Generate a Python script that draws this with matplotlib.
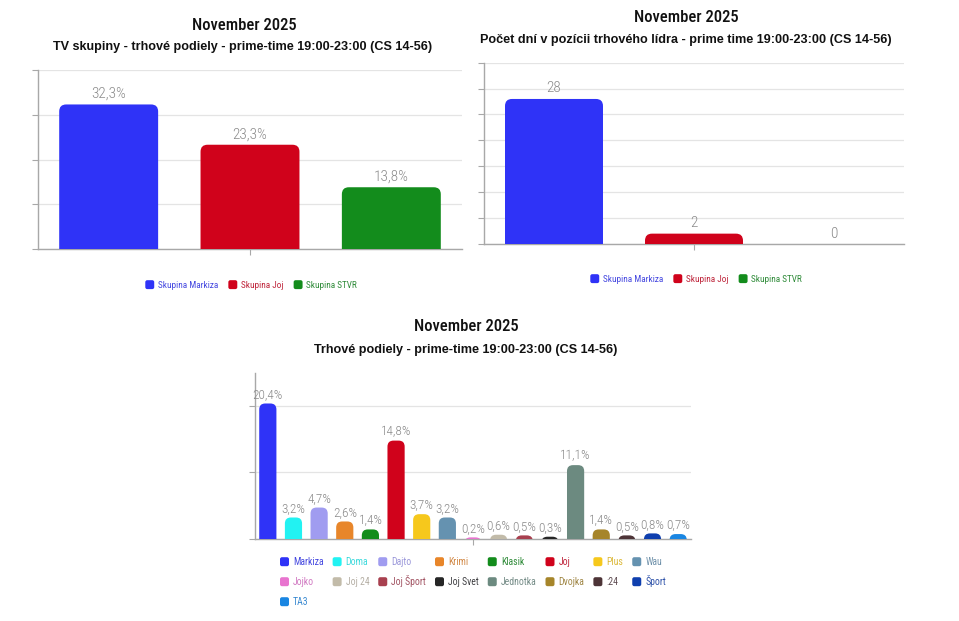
import matplotlib
matplotlib.use("Agg")
import matplotlib.pyplot as plt
from matplotlib.patches import FancyBboxPatch, Patch
from matplotlib.legend_handler import HandlerPatch
import matplotlib.colors as mcolors
import numpy as np

# ---------------- data ----------------
month_title = "November 2025"
groups = ["Skupina Markiza", "Skupina Joj", "Skupina STVR"]
group_share = [32.3, 23.3, 13.8]
leader_days = [28, 2, 0]
group_colors = ["#2f33f7", "#d0021b", "#138c1c"]

channels = ["Markiza", "Doma", "Dajto", "Krimi", "Klasik", "Joj", "Plus", "Wau",
            "Jojko", "Joj 24", "Joj Šport", "Joj Svet", "Jednotka", "Dvojka",
            ":24", "Šport", "TA3"]
channel_share = [20.4, 3.2, 4.7, 2.6, 1.4, 14.8, 3.7, 3.2,
                 0.2, 0.6, 0.5, 0.3, 11.1, 1.4, 0.5, 0.8, 0.7]
channel_colors = ["#2f33f7", "#22f2f2", "#a09cf0", "#e8862a", "#138c1c", "#d0021b",
                  "#f6c81c", "#6592b0", "#e874cf", "#c2bba9", "#a8404f", "#262626",
                  "#6c8a80", "#a6852a", "#4d3437", "#0f3fae", "#1a86e2"]

sub1 = "TV skupiny - trhové podiely - prime-time 19:00-23:00 (CS 14-56)"
sub2 = "Počet dní v pozícii trhového lídra - prime time 19:00-23:00 (CS 14-56)"
sub3 = "Trhové podiely - prime-time 19:00-23:00 (CS 14-56)"

# ---------------- style ----------------
TITLE_FONT = ["Roboto Condensed", "Lato", "DejaVu Sans"]
SUB_FONT = ["Liberation Sans", "DejaVu Sans"]
VAL_FONT = ["Roboto Condensed", "Lato", "DejaVu Sans"]
LEG_FONT = ["Roboto Condensed", "Lato", "DejaVu Sans"]
W, H = 959, 621

fig = plt.figure(figsize=(W / 100, H / 100), dpi=100)
fig.patch.set_facecolor("white")


def soften(c, amt=0.25):
    r, g, b = mcolors.to_rgb(c)
    return (r + (0.55 - r) * amt, g + (0.55 - g) * amt, b + (0.6 - b) * amt)


def px_axes(l, t, r, b):
    return fig.add_axes([l / W, 1 - b / H, (r - l) / W, (b - t) / H])


def rounded(ax, bars, radius_px):
    fig.canvas.draw()
    bb = ax.get_window_extent()
    x0, x1 = ax.get_xlim()
    y0, y1 = ax.get_ylim()
    rx = radius_px * (x1 - x0) / bb.width
    ry = radius_px * (y1 - y0) / bb.height
    for rect in bars:
        x, w, h = rect.get_x(), rect.get_width(), rect.get_height()
        c = rect.get_facecolor()
        rect.remove()
        p = FancyBboxPatch((x, -2 * ry), w, h + 2 * ry,
                           boxstyle=f"round,pad=0,rounding_size={rx}",
                           mutation_aspect=ry / rx, facecolor=c,
                           edgecolor="none", zorder=3, clip_on=True)
        ax.add_patch(p)


def style_axes(ax, ymax, yticks):
    ax.set_ylim(0, ymax)
    for s in ("top", "right"):
        ax.spines[s].set_visible(False)
    for s in ("left", "bottom"):
        ax.spines[s].set_color("#a8a8a8")
        ax.spines[s].set_linewidth(1.0)
    ax.set_yticks(yticks)
    ax.set_yticklabels([])
    ax.tick_params(axis="y", length=4, color="#a8a8a8", width=0.8)
    ax.tick_params(axis="x", length=4, color="#a8a8a8", width=0.8)
    ax.grid(axis="y", color="#e4e4e4", linewidth=0.9, zorder=0)
    ax.set_axisbelow(True)


def draw_bars(ax, values, colors, width, fmt, fsize, offset):
    n = len(values)
    xs = np.arange(n)
    bars = ax.bar(xs, values, width=width, color=colors, zorder=3)
    ax.set_xlim(-0.5, n - 0.5)
    ax.set_xticks([(n - 1) / 2])
    ax.set_xticklabels([])
    for x, v in zip(xs, values):
        ax.annotate(fmt(v), (x, v), xytext=(0, offset), textcoords="offset points",
                    ha="center", va="bottom", fontsize=fsize, color="#8a8a8a",
                    family=VAL_FONT, fontweight="light", zorder=4)
    return bars


class RoundHandler(HandlerPatch):
    def create_artists(self, legend, orig_handle, xdescent, ydescent, width,
                       height, fontsize, trans):
        s = min(width, height)
        p = FancyBboxPatch((-xdescent + (width - s) / 2, -ydescent + (height - s) / 2), s, s,
                           boxstyle=f"round,pad=0,rounding_size={s*0.22}",
                           facecolor=orig_handle.get_facecolor(), edgecolor="none",
                           transform=trans)
        return [p]


def add_legend(labels, colors, cx, cy, ncol, fsize, colspace, lspace):
    handles = [Patch(facecolor=c, label=l) for l, c in zip(labels, colors)]
    leg = fig.legend(handles=handles, loc="center", bbox_to_anchor=(cx / W, 1 - cy / H),
                     ncol=ncol, frameon=False, handlelength=1.1, handleheight=1.1,
                     handletextpad=0.35, columnspacing=colspace, labelspacing=lspace,
                     prop={"family": LEG_FONT, "size": fsize},
                     handler_map={Patch: RoundHandler()})
    for t, h in zip(leg.get_texts(), handles):
        t.set_color(soften(h.get_facecolor()))
    return leg


def grid_legend(labels, colors, ncol, left_px, row_y_px, fsize, sq_px, pad_px, gap_px):
    """Row-major legend grid with column widths from the measured label widths."""
    renderer = fig.canvas.get_renderer()
    texts = []
    for i, (lab, col) in enumerate(zip(labels, colors)):
        t = fig.text(0, 0, lab, fontsize=fsize, family=LEG_FONT, color=soften(col),
                     ha="left", va="baseline")
        texts.append(t)
    widths = [t.get_window_extent(renderer).width for t in texts]
    colw = [0.0] * ncol
    for i, w in enumerate(widths):
        c = i % ncol
        colw[c] = max(colw[c], w)
    xs = [left_px]
    for c in range(ncol - 1):
        xs.append(xs[-1] + sq_px + pad_px + colw[c] + gap_px)
    cap_px = 0.71 * fsize * 100 / 72
    for i, (t, col) in enumerate(zip(texts, colors)):
        r, c = divmod(i, ncol)
        x = xs[c]
        y = row_y_px[r]
        sq = FancyBboxPatch((x / W, 1 - (y + sq_px / 2) / H), sq_px / W, sq_px / H,
                            boxstyle=f"round,pad=0,rounding_size={2.0 / W}",
                            mutation_aspect=W / H, transform=fig.transFigure,
                            facecolor=col, edgecolor="none")
        fig.add_artist(sq)
        t.set_position(((x + sq_px + pad_px) / W, 1 - (y + cap_px / 2) / H))


pct = lambda v: f"{v:.1f}%".replace(".", ",")

# ---------------- chart 1 ----------------
ax1 = px_axes(38, 70, 462, 249)
style_axes(ax1, 40, [0, 10, 20, 30, 40])
b1 = draw_bars(ax1, group_share, group_colors, 0.7, pct, 11, 2.5)
rounded(ax1, b1, 7)
fig.text(244 / W, 1 - 25 / H, month_title, ha="center", va="center",
         fontsize=12, family=TITLE_FONT, fontweight="medium", color="#111111")
fig.text(243 / W, 1 - 47 / H, sub1, ha="center", va="center",
         fontsize=9.1, family=SUB_FONT, fontweight="bold", color="#111111")
add_legend(groups, group_colors, 251, 285, 3, 6.7, 1.0, 0.75)

# ---------------- chart 2 ----------------
ax2 = px_axes(484, 62.7, 904, 244)
style_axes(ax2, 35, [0, 5, 10, 15, 20, 25, 30, 35])
b2 = draw_bars(ax2, leader_days, group_colors, 0.7, lambda v: f"{v:d}", 11, 2.5)
rounded(ax2, b2, 7)
fig.text(686 / W, 1 - 18 / H, month_title, ha="center", va="center",
         fontsize=12, family=TITLE_FONT, fontweight="medium", color="#111111")
fig.text(685.5 / W, 1 - 40 / H, sub2, ha="center", va="center",
         fontsize=9.1, family=SUB_FONT, fontweight="bold", color="#111111")
add_legend(groups, group_colors, 696, 279, 3, 6.7, 1.0, 0.75)

# ---------------- chart 3 ----------------
ax3 = px_axes(255, 373, 691, 538.7)
style_axes(ax3, 25, [0, 10, 20])
b3 = draw_bars(ax3, channel_share, channel_colors, 0.67, pct, 9.5, 2)
rounded(ax3, b3, 6)
fig.text(466 / W, 1 - 326.7 / H, month_title, ha="center", va="center",
         fontsize=12, family=TITLE_FONT, fontweight="medium", color="#111111")
fig.text(466 / W, 1 - 350 / H, sub3, ha="center", va="center",
         fontsize=9.1, family=SUB_FONT, fontweight="bold", color="#111111")
grid_legend(channels, channel_colors, 8, 280, [561.7, 581.7, 601.7], 7, 9, 4, 9)

fig.savefig("out.png", dpi=100, facecolor="white")
